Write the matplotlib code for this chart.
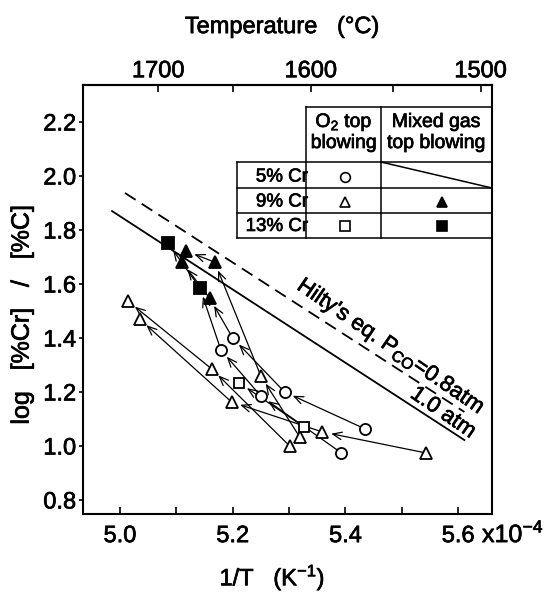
import numpy as np
import matplotlib
matplotlib.use("Agg")
import matplotlib.pyplot as plt
import matplotlib.patheffects as pe
from matplotlib.text import Text

plt.rcParams['font.family'] = ['Liberation Sans', 'DejaVu Sans']
plt.rcParams['mathtext.fontset'] = 'custom'
plt.rcParams['mathtext.rm'] = 'Liberation Sans'

# ---------------- data (x in 1/T * 1e4, y = log[%Cr]/[%C]) ----------------
# 9% Cr, O2 top blowing (open triangles)
tri_x = [5.014, 5.035, 5.163, 5.198, 5.250, 5.301, 5.319, 5.359, 5.543]
tri_y = [1.537, 1.470, 1.285, 1.163, 1.259, 1.000, 1.033, 1.052, 0.974]
# 5% Cr, O2 top blowing (open circles)
circ_x = [5.200, 5.179, 5.250, 5.292, 5.435, 5.393]
circ_y = [1.400, 1.356, 1.185, 1.200, 1.063, 0.974]
# 13% Cr, O2 top blowing (open squares)
sq_x = [5.212, 5.327]
sq_y = [1.233, 1.070]
# 9% Cr, mixed gas top blowing (filled triangles)
ftri_x = [5.117, 5.110, 5.168, 5.159]
ftri_y = [1.722, 1.681, 1.681, 1.548]
# 13% Cr, mixed gas top blowing (filled squares)
fsq_x = [5.085, 5.142]
fsq_y = [1.752, 1.585]

# trajectories (x list, y list), in time order (arrow points to later sample)
traj_A_x = [5.543, 5.359, 5.198, 5.035]
traj_A_y = [0.974, 1.052, 1.163, 1.470]
traj_B_x = [5.301, 5.163, 5.014]
traj_B_y = [1.000, 1.285, 1.537]
traj_C_x = [5.319, 5.250, 5.168, 5.117]
traj_C_y = [1.033, 1.259, 1.681, 1.722]
traj_D_x = [5.435, 5.292, 5.200, 5.159, 5.110]
traj_D_y = [1.063, 1.200, 1.400, 1.548, 1.681]
traj_E_x = [5.393, 5.250, 5.179, 5.142, 5.085]
traj_E_y = [0.974, 1.185, 1.356, 1.585, 1.752]
traj_F_x = [5.327, 5.212]
traj_F_y = [1.070, 1.233]
trajectories = [(traj_A_x, traj_A_y), (traj_B_x, traj_B_y), (traj_C_x, traj_C_y),
                (traj_D_x, traj_D_y), (traj_E_x, traj_E_y), (traj_F_x, traj_F_y)]

# Hilty's equation lines
hilty10_x = [4.986, 5.611]
hilty10_y = [1.870, 1.022]
hilty08_x = [5.009, 5.611]
hilty08_y = [1.937, 1.126]

# axis ticks
xticks_major = [5.0, 5.2, 5.4, 5.6]
xticks_minor = [5.1, 5.3, 5.5]
yticks = [0.8, 1.0, 1.2, 1.4, 1.6, 1.8, 2.0, 2.2]
temp_ticks = [1700, 1650, 1600, 1550, 1500]
temp_labels = ['1700', '', '1600', '', '1500']

# ---------------- figure ----------------
fig = plt.figure(figsize=(5.51, 5.92), dpi=100)
ax = fig.add_axes([83/551, 1-514/592, (492-83)/551, (514-85)/592])
ax.set_xlim(4.9345, 5.660)
ax.set_ylim(0.748, 2.337)

FS = 17
LW_T = 0.9

for tx, ty in trajectories:
    for i in range(len(tx) - 1):
        ax.annotate('', xy=(tx[i+1], ty[i+1]), xytext=(tx[i], ty[i]),
                    arrowprops=dict(arrowstyle='->,head_length=0.65,head_width=0.27',
                                    lw=LW_T, color='black', shrinkA=0, shrinkB=6.5,
                                    mutation_scale=10),
                    zorder=2)

# Hilty lines
ax.plot(hilty10_x, hilty10_y, color='black', lw=1.3, zorder=1)
ax.plot(hilty08_x, hilty08_y, color='black', lw=1.3, dashes=(7, 4), zorder=1)
ax.text(5.480, 1.366, "Hilty's eq. P$_{\\rm CO}$=0.8atm", rotation=-34.5,
        rotation_mode='anchor', ha='center', va='center', fontsize=16)
ax.text(5.573, 1.122, "1.0 atm", rotation=-34.5, rotation_mode='anchor',
        ha='center', va='center', fontsize=16)

MS = 8.5
MEW = 1.3
ax.plot(tri_x, tri_y, ls='none', marker='^', ms=MS, mfc='white', mec='black', mew=MEW, zorder=3)
ax.plot(circ_x, circ_y, ls='none', marker='o', ms=MS-0.5, mfc='white', mec='black', mew=MEW, zorder=3)
ax.plot(sq_x, sq_y, ls='none', marker='s', ms=MS-1, mfc='white', mec='black', mew=MEW, zorder=3)
ax.plot(ftri_x, ftri_y, ls='none', marker='^', ms=MS+0.5, mfc='black', mec='black', mew=MEW, zorder=3)
ax.plot(fsq_x, fsq_y, ls='none', marker='s', ms=MS, mfc='black', mec='black', mew=MEW, zorder=3)

# ---------------- legend table (axes fraction) ----------------
T = ax.transAxes
tkw = dict(transform=T, color='black', lw=1.1, clip_on=False, zorder=4)
x_lab, x_o2, x_mix, x_r = 0.3765, 0.5452, 0.7286, 1.0
y_top, y_r0, y_r1, y_r2, y_r3 = 0.9487, 0.8205, 0.7599, 0.7016, 0.6434
ax.plot([x_o2, x_r], [y_top, y_top], **tkw)
ax.plot([x_o2, x_o2], [y_top, y_r3], **tkw)
ax.plot([x_mix, x_mix], [y_top, y_r3], **tkw)
ax.plot([x_lab, x_lab], [y_r0, y_r3], **tkw)
for yy in (y_r0, y_r1, y_r2, y_r3):
    ax.plot([x_lab, x_r], [yy, yy], **tkw)
ax.plot([x_mix, x_r], [y_r0, y_r1], **tkw)

HFS = 14
RFS = 13.5
c_o2, c_mix = 0.6381, 0.8643
ax.text(c_o2, 0.9021, "O$_2$ top", transform=T, ha='center', va='baseline', fontsize=HFS)
ax.text(c_o2, 0.8531, "blowing", transform=T, ha='center', va='baseline', fontsize=HFS)
ax.text(c_mix, 0.9021, "Mixed gas", transform=T, ha='center', va='baseline', fontsize=HFS)
ax.text(c_mix, 0.8531, "top blowing", transform=T, ha='center', va='baseline', fontsize=HFS)
row_labels = ["5% Cr", "9% Cr", "13% Cr"]
row_cy = [0.7855, 0.7273, 0.6702]
for lab, yy in zip(row_labels, row_cy):
    ax.text(0.5500, yy, lab, transform=T, ha='right', va='center', fontsize=RFS)
mkw = dict(transform=T, ls='none', clip_on=False, mec='black', mew=1.2, zorder=5)
ax.plot([0.6406], [row_cy[0]], marker='o', ms=7, mfc='white', **mkw)
ax.plot([0.6406], [row_cy[1]], marker='^', ms=7.5, mfc='white', **mkw)
ax.plot([0.6406], [row_cy[2]], marker='s', ms=6.5, mfc='white', **mkw)
ax.plot([0.8778], [row_cy[1]], marker='^', ms=7.5, mfc='black', **mkw)
ax.plot([0.8778], [row_cy[2]], marker='s', ms=6.5, mfc='black', **mkw)

# ---------------- axes styling ----------------
for s in ax.spines.values():
    s.set_linewidth(1.5)
ax.set_xticks(xticks_major)
ax.set_xticklabels([f"{v:.1f}" for v in xticks_major])
ax.set_xticks(xticks_minor, minor=True)
ax.set_yticks(yticks)
ax.set_yticklabels([f"{v:.1f}" for v in yticks])
ax.tick_params(axis='x', which='both', direction='in', length=5, width=1.2,
               labelsize=FS, pad=8, top=False)
ax.tick_params(axis='y', direction='out', length=3, width=1.2, labelsize=FS, pad=2, right=False)

def inv2c(x):
    x = np.asarray(x, dtype=float)
    with np.errstate(divide='ignore', invalid='ignore'):
        return 1e4 / x - 273.15

def c2inv(t):
    t = np.asarray(t, dtype=float)
    with np.errstate(divide='ignore', invalid='ignore'):
        return 1e4 / (t + 273.15)

secax = ax.secondary_xaxis('top', functions=(inv2c, c2inv))
secax.set_xticks(temp_ticks)
secax.set_xticklabels(temp_labels)
secax.tick_params(direction='in', length=5, width=1.2, labelsize=FS, pad=2)
secax.spines['top'].set_linewidth(1.5)

ax.text(0.487, 1.135, "Temperature   (°C)", transform=ax.transAxes,
        ha='center', va='center', fontsize=FS)

ax.set_xlabel("1/T   (K$^{-1}$)", fontsize=FS)
ax.xaxis.set_label_coords(0.463, -0.147)
ax.xaxis.label.set_va('center')
ax.set_ylabel("log   [%Cr]   /   [%C]", fontsize=18)
ax.yaxis.set_label_coords(-0.150, 0.464)
ax.yaxis.label.set_va('center')

fig.text(482/551, 1-534/592, "x10$^{-4}$", ha='left', va='center', fontsize=18)

# slightly heavier text, like the scanned original
for t in fig.findobj(Text):
    t.set_path_effects([pe.withStroke(linewidth=0.5, foreground='black')])

fig.savefig("out.png", dpi=100)
